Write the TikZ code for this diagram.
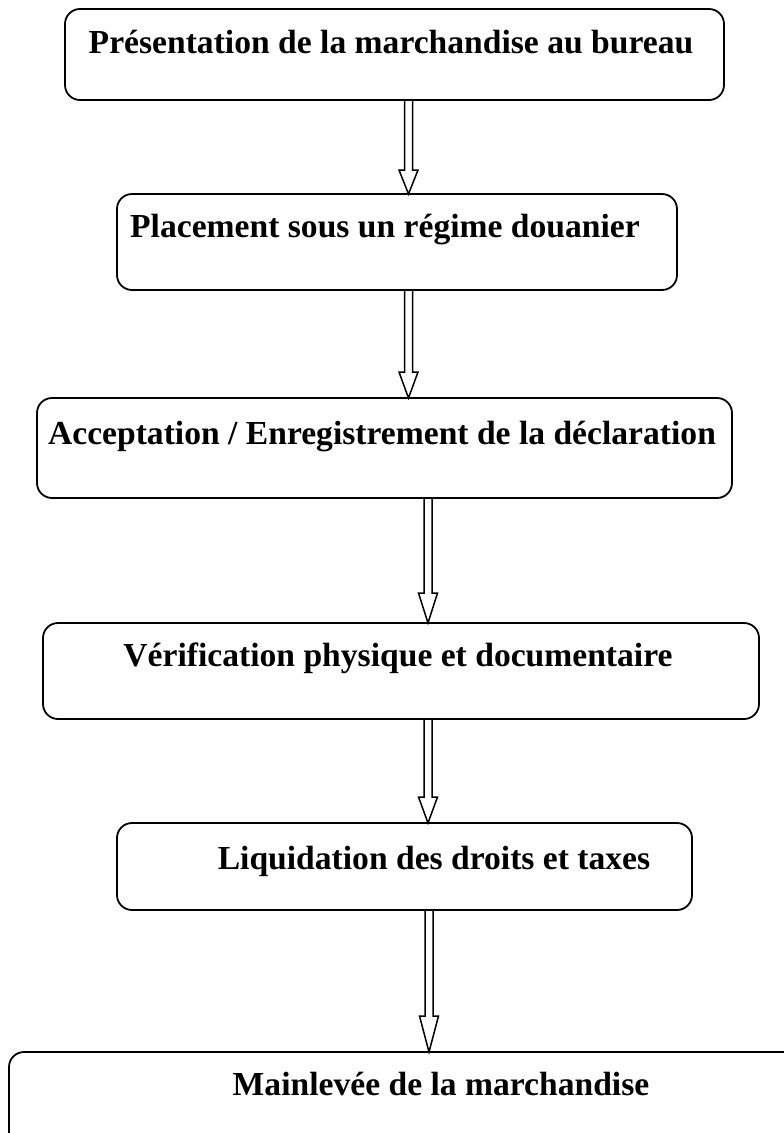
\documentclass[tikz,border=0pt]{standalone}
\usepackage{fontspec}
\setmainfont{Liberation Serif}
\usetikzlibrary{calc}
\tikzset{
  box/.style={draw, rectangle, line width=1.8pt, rounded corners=15pt, inner sep=0pt, outer sep=0pt},
  caption/.style={anchor=base, inner sep=0pt, font=\fontsize{33.6}{40}\selectfont\bfseries},
  hollow/.style={draw, line width=1.5pt, line join=miter}
}
% hollow block arrow: from node #1 down to node #2, centred at x=#3, head length #4
\newcommand{\hollowarrow}[4]{%
  \draw[hollow] let \p1=(#1.south), \p2=(#2.north) in
    ({(#3-4)*1pt},\y1) -- ({(#3-4)*1pt},{\y2+#4*1pt})
    -- ({(#3-9.5)*1pt},{\y2+#4*1pt}) -- ({#3*1pt},\y2)
    -- ({(#3+9.5)*1pt},{\y2+#4*1pt}) -- ({(#3+4)*1pt},{\y2+#4*1pt})
    -- ({(#3+4)*1pt},\y1);}
\begin{document}
\begin{tikzpicture}[x=1pt,y=1pt]
\useasboundingbox (0,0) rectangle (784,-1133);
\clip (0,0) rectangle (784,-1133);

% process steps
\node[box, minimum width=659pt, minimum height=91pt] (b1) at (394.5,-54.5) {};
\node[box, minimum width=560pt, minimum height=96pt] (b2) at (397,-242) {};
\node[box, minimum width=695pt, minimum height=100pt] (b3) at (384.5,-448) {};
\node[box, minimum width=716pt, minimum height=96pt] (b4) at (401,-671) {};
\node[box, minimum width=575pt, minimum height=87pt] (b5) at (404.5,-866.5) {};
\node[box, minimum width=801pt, minimum height=108pt] (b6) at (409.5,-1106) {};

\node[caption] (t1) at (391,-53) {Présentation de la marchandise au bureau};
\node[caption] (t2) at (385,-237) {Placement sous un régime douanier};
\node[caption] (t3) at (382,-444) {Acceptation / Enregistrement de la déclaration};
\node[caption] (t4) at (398,-666) {Vérification physique et documentaire};
\node[caption] (t5) at (434,-869) {Liquidation des droits et taxes};
\node[caption] (t6) at (441,-1095) {Mainlevée de la marchandise};

% flow arrows
\hollowarrow{b1}{b2}{408.5}{24}
\hollowarrow{b2}{b3}{408.5}{26}
\hollowarrow{b3}{b4}{428}{30}
\hollowarrow{b4}{b5}{428}{26}
\hollowarrow{b5}{b6}{429}{36}
\end{tikzpicture}
\end{document}
